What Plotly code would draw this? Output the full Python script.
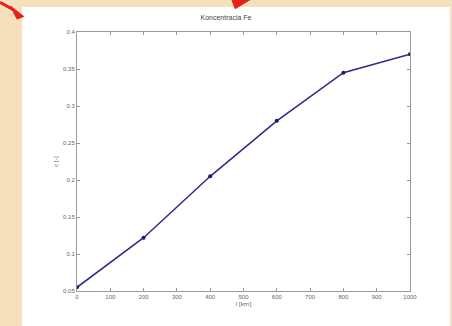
import plotly.graph_objects as go

x_vals = [0, 200, 400, 600, 800, 1000]
y_vals = [0.055, 0.122, 0.205, 0.28, 0.345, 0.37]
x_ticks = [0, 100, 200, 300, 400, 500, 600, 700, 800, 900, 1000]
y_ticks = [0.05, 0.1, 0.15, 0.2, 0.25, 0.3, 0.35, 0.4]
title_text = "Koncentracia Fe"
x_title = "l [km]"
y_title = "c [-]"

fig = go.Figure()
fig.add_trace(go.Scatter(
    x=x_vals, y=y_vals, mode="lines+markers",
    line=dict(color="#2a2a8c", width=1.5),
    marker=dict(color="#1a1a60", size=4),
    showlegend=False,
))

axis_common = dict(
    showgrid=False, zeroline=False, showline=True, mirror="ticks",
    linecolor="#9a9a9a", linewidth=1, ticks="inside", ticklen=3,
    tickcolor="#9a9a9a", tickfont=dict(size=6, color="#666", family="Liberation Sans"),
)

fig.update_layout(
    width=452, height=326,
    margin=dict(l=77, r=42, t=32, b=35),
    paper_bgcolor="#f5e0bd",
    plot_bgcolor="white",
    title=dict(text=title_text, x=0.5, xanchor="center", y=0.945, yanchor="middle",
               font=dict(size=7, color="#444", family="Liberation Sans")),
    xaxis=dict(range=[0, 1000], tickvals=x_ticks,
               title=dict(text=x_title, standoff=2, font=dict(size=6, color="#555")),
               **axis_common),
    yaxis=dict(range=[0.05, 0.4], tickvals=y_ticks,
               title=dict(text=y_title, standoff=4, font=dict(size=6, color="#555")),
               **axis_common),
    shapes=[
        dict(type="rect", xref="paper", yref="paper", x0=-0.165, x1=1.12, y0=-0.14, y1=1.0965,
             fillcolor="white", line=dict(width=0), layer="below"),
        dict(type="line", xref="paper", yref="paper", x0=-0.231, y0=1.115, x1=-0.19, y1=1.085,
             line=dict(color="#e8201a", width=3)),
        dict(type="path", xref="paper", yref="paper",
             path="M -0.2 1.1 L -0.16 1.06 L -0.18 1.05 Z",
             fillcolor="#e8201a", line=dict(color="#e8201a", width=1)),
        dict(type="path", xref="paper", yref="paper",
             path="M 0.465 1.125 L 0.52 1.125 L 0.475 1.09 Z",
             fillcolor="#e8201a", line=dict(color="#e8201a", width=1)),
    ],
)

fig.write_html("out.html")
